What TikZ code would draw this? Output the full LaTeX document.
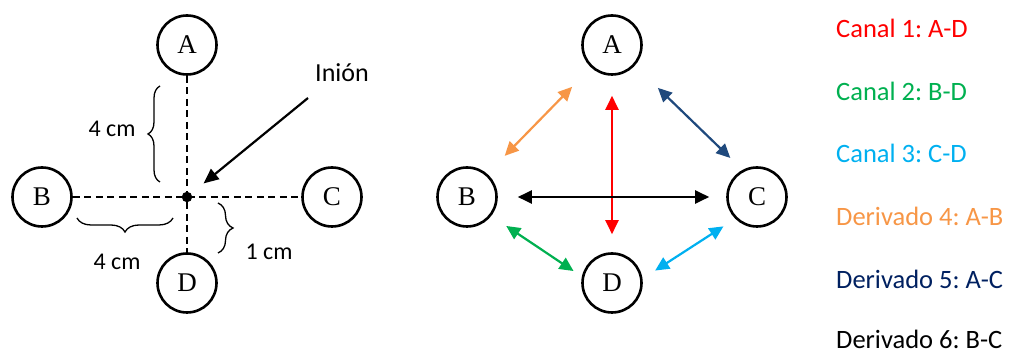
\documentclass[tikz,border=0pt]{standalone}
\usepackage{fontspec}
\setmainfont{Carlito}
\newfontfamily\electrodefont{Liberation Serif}
\usetikzlibrary{arrows.meta,decorations.pathreplacing}
\definecolor{chred}{HTML}{FF0000}
\definecolor{chgreen}{HTML}{00B050}
\definecolor{chcyan}{HTML}{00B0F0}
\definecolor{chorange}{HTML}{F79646}
\definecolor{chnavy}{HTML}{1F497D}
\definecolor{txtnavy}{HTML}{002060}
\frenchspacing
\begin{document}
\begin{tikzpicture}[x=1pt,y=1pt,
  electrode/.style={circle,draw,line width=2.6pt,minimum size=59pt,inner sep=0pt,
    font=\electrodefont\fontsize{27}{27}\selectfont},
  guide/.style={line width=2pt,dash pattern=on 7pt off 4.5pt},
  bracket/.style={decorate,decoration={brace,amplitude=#1},line width=1.3pt},
  measure/.style={anchor=base,font=\fontsize{24}{24}\selectfont},
  link/.style={line width=2.2pt,{Triangle[length=14pt,width=13pt]}-{Triangle[length=14pt,width=13pt]}},
  legend/.style={anchor=base west,inner sep=1pt,font=\fontsize{26.5}{26.5}\selectfont}]

\useasboundingbox (0,0) rectangle (1010,355);

% ---------- electrode placement ----------
\node[electrode] (A) at (187,310) {A};
\node[electrode] (B) at (42,158) {B};
\node[electrode] (C) at (332,158) {C};
\node[electrode] (D) at (187,72) {D};
\node[circle,fill,inner sep=0pt,minimum size=10.5pt] (dot) at (187,158) {};

\draw[guide] (A.south) -- (D.north);
\draw[guide] (B.east) -- (C.west);

% distances
\draw[bracket=12pt] (160,173) -- (160,269);
\draw[bracket=14pt] (173,137) -- (77,137);
\draw[bracket=15pt] (218,152) -- (218,102);
\node[measure] (m1) at (112,218.3) {4 cm};
\node[measure] (m2) at (117,85.7) {4 cm};
\node[measure] (m3) at (269,95) {1 cm};

% inion marker
\node[anchor=base,font=\fontsize{26}{26}\selectfont] (ini) at (342,273.3) {Inión};
\coordinate (ptr) at (308,257);
\draw[line width=2.2pt,-{Triangle[length=15pt,width=13pt]},shorten >=16pt] (ptr) -- (dot);

% ---------- channel montage ----------
\node[electrode] (A2) at (612,310) {A};
\node[electrode] (B2) at (467,158) {B};
\node[electrode] (C2) at (757,158) {C};
\node[electrode] (D2) at (612,72) {D};

\draw[link,chred,shorten <=20pt,shorten >=18pt] (A2.south) -- (D2.north);
\draw[link,black,shorten <=20pt,shorten >=17pt] (B2.east) -- (C2.west);
\draw[link,chorange,shorten <=27pt,shorten >=25pt] (A2.227) -- (B2.49);
\draw[link,chnavy,shorten <=32pt,shorten >=17pt] (A2.-42) -- (C2.118);
\draw[link,chgreen,shorten <=18pt,shorten >=10pt] (B2.-38) -- (D2.168);
\draw[link,chcyan,shorten <=14pt,shorten >=15pt] (C2.225) -- (D2.8);

% ---------- legend ----------
\node[legend,text=chred] (l1) at (835,317.5) {Canal 1: A-D};
\node[legend,text=chgreen] (l2) at (835,254.5) {Canal 2: B-D};
\node[legend,text=chcyan] (l3) at (835,192) {Canal 3: C-D};
\node[legend,text=chorange] (l4) at (835,129) {Derivado 4: A-B};
\node[legend,text=txtnavy] (l5) at (835,66) {Derivado 5: A-C};
\node[legend,text=black] (l6) at (835,6) {Derivado 6: B-C};
\end{tikzpicture}
\end{document}
